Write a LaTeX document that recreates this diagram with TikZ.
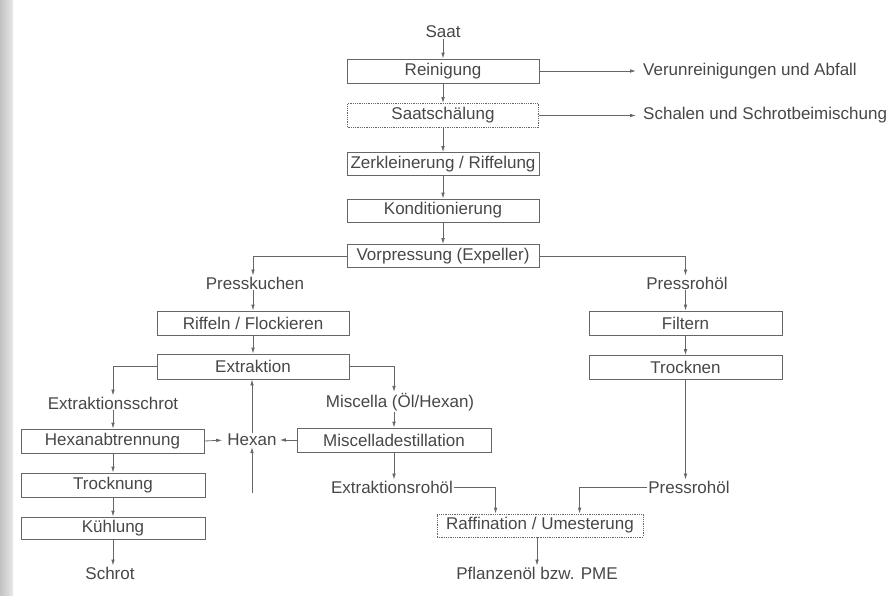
\documentclass[tikz,border=0pt]{standalone}
\usepackage{fontspec}
\setmainfont{Liberation Sans}
\usetikzlibrary{arrows.meta}
\definecolor{ink}{HTML}{474747}
\definecolor{rule}{HTML}{666666}
\begin{document}
\begin{tikzpicture}[x=1pt,y=-1pt,
  every node/.style={font=\fontsize{17}{20}\selectfont, text=ink},
  box/.style={draw=rule, line width=0.8pt, rectangle, inner sep=0pt, minimum height=24pt},
  dotbox/.style={box, densely dotted},
  lbl/.style={inner sep=1pt},
  conn/.style={draw=rule, line width=0.8pt, -{Latex[length=6pt,width=3.6pt]}}]
\useasboundingbox (0,0) rectangle (893,595);
\fill[left color=black!24, right color=black!9] (0,0) rectangle (13,595);

% centre column
\node[lbl] (saat) at (443,32) {Saat};
\node[box, minimum width=192pt] (rein) at (443,71) {Reinigung};
\node[dotbox, minimum width=191pt] (schael) at (443,115.5) {Saatschälung};
\node[box, minimum width=192pt, minimum height=23pt] (zerk) at (443,164) {Zerkleinerung / Riffelung};
\node[box, minimum width=192pt, minimum height=23pt] (kond) at (443,210.5) {Konditionierung};
\node[box, minimum width=192pt, minimum height=23pt] (vorp) at (443,256) {Vorpressung (Expeller)};
\node[lbl, anchor=west] (verun) at (642,71) {Verunreinigungen und Abfall};
\node[lbl, anchor=west] (schal) at (642,115.5) {Schalen und Schrotbeimischung};

% left branch
\node[lbl] (pk) at (255,283) {Presskuchen};
\node[box, minimum width=192pt] (riff) at (253,323) {Riffeln / Flockieren};
\node[box, minimum width=192pt, minimum height=25pt] (extr) at (253,366.5) {Extraktion};
\node[lbl] (exs) at (113,403) {Extraktionsschrot};
\node[box, minimum width=183pt] (hexab) at (112.5,441) {Hexanabtrennung};
\node[box, minimum width=184pt] (trock) at (113,485) {Trocknung};
\node[box, minimum width=184pt, minimum height=22pt] (kuehl) at (113,528) {Kühlung};
\node[lbl] (schrot) at (110,573) {Schrot};
\node[lbl] (hexan) at (252,440) {Hexan};
\coordinate (hexin) at (252,493);
\node[lbl] (misc) at (400,402) {Miscella (Öl/Hexan)};
\node[box, minimum width=194pt] (mdest) at (394,440) {Miscelladestillation};
\node[lbl] (exroh) at (392,487) {Extraktionsrohöl};

% right branch
\node[lbl] (prA) at (687,283) {Pressrohöl};
\node[box, minimum width=193pt] (filt) at (685.5,323) {Filtern};
\node[box, minimum width=193pt] (trockn) at (685.5,367.5) {Trocknen};
\node[lbl] (prB) at (689,487) {Pressrohöl};

% bottom
\node[dotbox, minimum width=206pt, minimum height=23pt] (raff) at (540,525.5) {Raffination / Umesterung};
\node[lbl] (pfl) at (537,573) {Pflanzenöl bzw. PME};

% connectors: centre column
\draw[conn] (saat) -- (rein);
\draw[conn] (rein) -- (schael);
\draw[conn] (schael) -- (zerk);
\draw[conn] (zerk) -- (kond);
\draw[conn] (kond) -- (vorp);
\draw[conn, shorten >=6pt] (rein.east) -- (verun.west);
\draw[conn, shorten >=6pt] (schael.east) -- (schal.west);

% split
\draw[conn] (vorp.west) -| (riff.north |- pk.north);
\draw[conn] (vorp.east) -| (filt.north |- prA.north);

% left
\draw[conn] (riff.north |- pk.south) -- (riff.north);
\draw[conn] (riff) -- (extr);
\draw[conn] (extr.west) -| (exs.north);
\draw[conn] (exs.south) -- (exs.south |- hexab.north);
\draw[conn] (exs.south |- hexab.south) -- (exs.south |- trock.north);
\draw[conn] (exs.south |- trock.south) -- (exs.south |- kuehl.north);
\draw[conn] (exs.south |- kuehl.south) -- (exs.south |- schrot.north);
\draw[conn, shorten >=4pt] (hexab.east) -- (hexan.west);
\draw[conn, shorten >=2pt] (mdest.west) -- (hexan.east);
\draw[conn] (hexan.north) -- (hexan.north |- extr.south);
\draw[conn] (hexin) -- (hexan.south);
\draw[conn] (extr.east) -| (mdest.north |- misc.north);
\draw[conn] (mdest.north |- misc.south) -- (mdest.north);
\draw[conn] (mdest.south) -- (mdest.south |- exroh.north);

% right
\draw[conn] (filt.north |- prA.south) -- (filt.north);
\draw[conn] (filt) -- (trockn);
\draw[conn] (trockn.south) -- (trockn.south |- prB.north);

% bottom
\draw[conn] (exroh.east) -| ([xshift=59pt]raff.north west);
\draw[conn] (prB.west) -| ([xshift=143pt]raff.north west);
\draw[conn] (pfl.north |- raff.south) -- (pfl.north);
\end{tikzpicture}
\end{document}
